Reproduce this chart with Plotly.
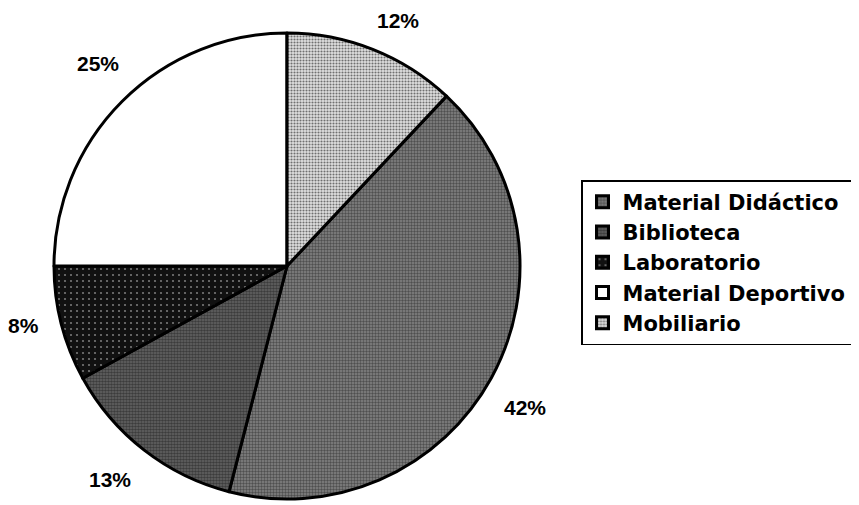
import math
import plotly.graph_objects as go

labels = ["Material Didáctico", "Biblioteca", "Laboratorio", "Material Deportivo", "Mobiliario"]
values = [42, 13, 8, 25, 12]

W, H = 859, 505
OFF = 8                      # page body margin of the exported html
CX, CY, R = 287 - OFF, 266 - OFF, 233   # pie centre / radius in pixels
ROT = values[-1] / sum(values) * 360    # first slice starts after Mobiliario
LABEL_R = 1.19               # label distance (in radii)
LABEL_SHIFT = 2.0            # small clockwise shift of labels (degrees)
LABEL_FONT = 21

bg = ["#848484", "#666666", "#111111", "#ffffff", "#e0e0e0"]
fg = ["#1a1a1a", "#111111", "#dddddd", "#ffffff", "#000000"]
shapes = [".", ".", ".", "", "."]
psize = [3, 3, 6, 4, 3]
solid = [0.5, 0.6, 0.1, 0.3, 0.4]

fig = go.Figure(go.Pie(
    labels=labels, values=values, sort=False, direction="clockwise",
    rotation=ROT, textinfo="none", hoverinfo="label+percent",
    marker=dict(colors=bg, line=dict(color="black", width=3),
                pattern=dict(shape=shapes, fgcolor=fg, bgcolor=bg,
                             size=psize, solidity=solid, fillmode="overlay")),
    domain=dict(x=[(CX - R) / W, (CX + R) / W], y=[(H - CY - R) / H, (H - CY + R) / H]),
    showlegend=True,
))

# percentage labels placed along each slice's mid-angle (kept inside the page)
total = sum(values)
ang = ROT
for v in values:
    mid = ang + v / total * 180 + LABEL_SHIFT
    ang += v / total * 360
    t = math.radians(mid)
    txt = f"{round(v / total * 100)}%"
    half_w = 0.36 * LABEL_FONT * len(txt)
    half_h = 0.6 * LABEL_FONT
    px = CX + LABEL_R * R * math.sin(t)
    py = CY - LABEL_R * R * math.cos(t)
    px = min(max(px, half_w), W - half_w)
    py = min(max(py, half_h), H - half_h)
    fig.add_annotation(x=px / W, y=1 - py / H, xref="paper", yref="paper",
                       xanchor="center", yanchor="middle",
                       text=f"<b>{txt}</b>", showarrow=False,
                       font=dict(size=LABEL_FONT, color="black", family="Liberation Sans, Arial"))

fig.update_layout(
    width=W, height=H, margin=dict(l=0, r=0, t=0, b=0),
    paper_bgcolor="white", plot_bgcolor="white",
    font=dict(family="DejaVu Sans", color="black"),
    legend=dict(x=(581 - OFF) / W, y=1 - (180 - OFF) / H, xanchor="left", yanchor="top",
                bordercolor="black", borderwidth=1.5, bgcolor="white",
                font=dict(size=21, family="DejaVu Sans", weight="bold"),
                traceorder="normal", itemwidth=30, tracegroupgap=0),
)

fig.write_html("out.html")
